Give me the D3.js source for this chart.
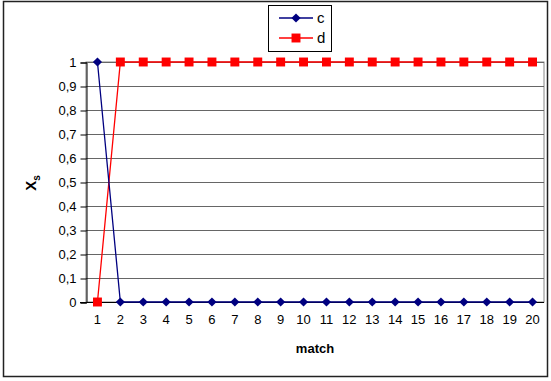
<!DOCTYPE html>
<html>
<head>
<meta charset="utf-8">
<script src="https://cdn.jsdelivr.net/npm/d3@7"></script>
<style>
  html, body { margin: 0; padding: 0; background: #fff; }
  svg { display: block; font-family: Arial, "Liberation Sans", sans-serif; }
</style>
</head>
<body>
<svg id="chart" width="551" height="381"></svg>
<script>
const matches = d3.range(1, 21);
const seriesC = [1, 0, 0, 0, 0, 0, 0, 0, 0, 0, 0, 0, 0, 0, 0, 0, 0, 0, 0, 0];
const seriesD = [0, 1, 1, 1, 1, 1, 1, 1, 1, 1, 1, 1, 1, 1, 1, 1, 1, 1, 1, 1];
const yTicks = [0, 0.1, 0.2, 0.3, 0.4, 0.5, 0.6, 0.7, 0.8, 0.9, 1];

const svg = d3.select("#chart");
const plot = { left: 86, right: 544, top: 62, bottom: 302 };

// outer frame
svg.append("rect")
  .attr("x", 3.5).attr("y", 1.5).attr("width", 544).attr("height", 375)
  .attr("fill", "#fff").attr("stroke", "#222").attr("stroke-width", 1.5);

const x = d3.scaleBand().domain(matches).range([plot.left, plot.right]);
const y = d3.scaleLinear().domain([0, 1]).range([plot.bottom, plot.top]);
const cx = d => x(d) + x.bandwidth() / 2;

// plot-area border (gray)
svg.append("rect")
  .attr("x", plot.left).attr("y", plot.top)
  .attr("width", plot.right - plot.left).attr("height", plot.bottom - plot.top)
  .attr("fill", "none").attr("stroke", "#888").attr("stroke-width", 1);

// gridlines
svg.append("g").selectAll("line").data(yTicks).join("line")
  .attr("x1", plot.left).attr("x2", plot.right)
  .attr("y1", d => Math.round(y(d)) + 0.5).attr("y2", d => Math.round(y(d)) + 0.5)
  .attr("stroke", "#666").attr("stroke-width", 1);

// y axis
const yAxis = d3.axisLeft(y).tickValues(yTicks).tickSize(6).tickPadding(4)
  .tickFormat(d => d3.format("~g")(d).replace(".", ","));
const gy = svg.append("g").attr("transform", `translate(${plot.left + 0.5},0.5)`).call(yAxis);
gy.select(".domain").attr("stroke", "#000");
gy.selectAll(".tick line").attr("stroke", "#000");
gy.selectAll("text").attr("font-size", 13).attr("fill", "#000")
  .attr("font-family", "Arial, 'Liberation Sans', sans-serif");

// x axis
const xAxis = d3.axisBottom(x).tickSize(0).tickPadding(12);
const gx = svg.append("g").attr("transform", `translate(0,${plot.bottom + 0.5})`).call(xAxis);
gx.select(".domain").attr("stroke", "#000").attr("d", `M${plot.left - 6},0H${plot.right}`);
gx.selectAll("text").attr("font-size", 13).attr("fill", "#000")
  .attr("font-family", "Arial, 'Liberation Sans', sans-serif");

// axis titles
svg.append("text")
  .attr("x", (plot.left + plot.right) / 2).attr("y", 353)
  .attr("text-anchor", "middle").attr("font-size", 13).attr("font-weight", "bold")
  .text("match");

const yt = svg.append("text")
  .attr("transform", "translate(36,183) rotate(-90)")
  .attr("text-anchor", "middle").attr("font-size", 15).attr("font-weight", "bold");
yt.append("tspan").text("X");
yt.append("tspan").attr("font-size", 10).attr("dy", 4).text("s");

const line = d3.line().x((d, i) => cx(matches[i])).y(d => y(d));
// diamond = square turned 45°
const diamond = d3.symbol().type(d3.symbolSquare).size(42);
const square = d3.symbol().type(d3.symbolSquare).size(80);

// series d (red, squares)
svg.append("path").datum(seriesD).attr("d", line)
  .attr("fill", "none").attr("stroke", "#ff0000").attr("stroke-width", 1.3);
svg.append("g").selectAll("path").data(seriesD).join("path")
  .attr("transform", (d, i) => `translate(${cx(matches[i])},${y(d)})`)
  .attr("d", square).attr("fill", "#ff0000");

// series c (navy, diamonds)
svg.append("path").datum(seriesC).attr("d", line)
  .attr("fill", "none").attr("stroke", "#000080").attr("stroke-width", 1.3);
svg.append("g").selectAll("path").data(seriesC).join("path")
  .attr("transform", (d, i) => `translate(${cx(matches[i])},${y(d)}) rotate(45)`)
  .attr("d", diamond).attr("fill", "#000080");

// legend
const legend = svg.append("g");
legend.append("rect")
  .attr("x", 268.5).attr("y", 5.5).attr("width", 63).attr("height", 46)
  .attr("fill", "#fff").attr("stroke", "#000").attr("stroke-width", 1);
const entries = [
  { name: "c", color: "#000080", sym: diamond, rot: 45, ly: 18 },
  { name: "d", color: "#ff0000", sym: square, rot: 0, ly: 38 }
];
entries.forEach(e => {
  legend.append("line").attr("x1", 279).attr("x2", 313).attr("y1", e.ly).attr("y2", e.ly)
    .attr("stroke", e.color).attr("stroke-width", 1.3);
  legend.append("path").attr("transform", `translate(296,${e.ly}) rotate(${e.rot})`)
    .attr("d", e.sym).attr("fill", e.color);
  legend.append("text").attr("x", 317).attr("y", e.ly + 5).attr("font-size", 15).text(e.name);
});
</script>
</body>
</html>
